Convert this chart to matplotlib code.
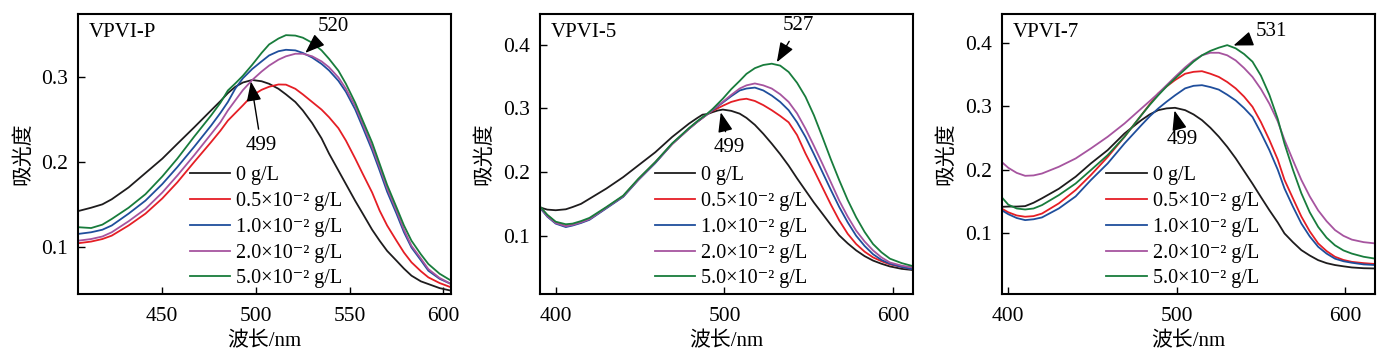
import matplotlib
matplotlib.use("Agg")
import matplotlib.pyplot as plt

plt.rcParams['font.family'] = ['Liberation Serif', 'DejaVu Serif', 'Noto Sans CJK SC']

# ---- datos ----
etiquetas = ['0 g/L', '0.5×10⁻² g/L', '1.0×10⁻² g/L', '2.0×10⁻² g/L', '5.0×10⁻² g/L']
colores = ['#1e1c1d', '#e51e25', '#1f4e9c', '#a6549f', '#187c3c']

# VPVI-P
wl_p = [405, 412, 418, 423, 432, 441, 450, 458, 467, 476, 481, 485, 489, 493, 498,
        503, 507, 512, 516, 521, 525, 530, 535, 539, 544, 548, 553, 557, 562, 566,
        570, 575, 579, 583, 588, 592, 598, 604]
p_0 = [.142, .146, .150, .156, .170, .187, .204, .2215, .241, .261, .272, .2815, .289,
       .294, .297, .2955, .2925, .2866, .280, .271, .261, .246, .228, .210, .190, .174,
       .154, .139, .120, .107, .095, .0834, .074, .0657, .059, .0558, .051, .048]
p_05 = [.104, .106, .109, .113, .125, .139, .157, .176, .200, .2235, .237, .249, .258,
        .267, .2787, .2854, .289, .2917, .2915, .2866, .280, .271, .262, .253, .240,
        .2254, .204, .186, .164, .1426, .125, .107, .093, .0815, .071, .0637, .057, .052]
p_10 = [.115, .117, .120, .125, .139, .1544, .174, .194, .218, .243, .258, .271, .287,
        .299, .310, .319, .326, .331, .3327, .332, .329, .3235, .316, .3083, .296, .283,
        .262, .241, .214, .190, .165, .139, .117, .099, .084, .0716, .062, .056]
p_20 = [.107, .109, .112, .117, .130, .1446, .164, .184, .208, .233, .247, .261, .273,
        .285, .297, .307, .314, .321, .325, .328, .328, .325, .319, .312, .300, .2866,
        .266, .245, .218, .194, .169, .1426, .120, .101, .086, .0735, .063, .056]
p_50 = [.123, .122, .126, .1327, .146, .162, .183, .204, .230, .255, .270, .2846, .293,
        .302, .315, .329, .339, .346, .350, .3495, .347, .341, .332, .322, .308, .2925,
        .270, .249, .223, .198, .173, .1465, .125, .107, .091, .0795, .068, .060]

# VPVI-5
wl_5 = [390, 395, 400, 406, 410, 415, 420, 430, 440, 449, 459, 469, 479, 484, 487, 490,
        493, 496, 499, 504, 509, 513, 518, 523, 528, 533, 538, 543, 548, 553, 558, 563,
        568, 573, 578, 583, 588, 593, 598, 605, 612]
c5_0 = [.145, .141, .140, .1415, .145, .150, .158, .174, .192, .2105, .231, .255, .276,
        .285, .290, .291, .294, .2965, .298, .296, .2916, .285, .274, .260, .2445, .228,
        .210, .190, .171, .152, .1346, .117, .1005, .088, .077, .068, .061, .056, .0518,
        .048, .046]
c5_05 = [.147, .132, .121, .115, .117, .121, .126, .144, .162, .1885, .215, .244, .268,
         .279, .285, .291, .296, .300, .304, .310, .3136, .315, .3115, .305, .297, .288,
         .278, .258, .229, .203, .176, .149, .124, .103, .087, .075, .066, .060, .055,
         .051, .047]
c5_10 = [.146, .130, .119, .1136, .116, .120, .125, .143, .161, .1875, .214, .244, .268,
         .279, .285, .291, .297, .303, .309, .319, .328, .331, .3325, .328, .320, .310,
         .297, .278, .255, .228, .200, .172, .145, .121, .100, .084, .071, .062, .056,
         .051, .047]
c5_20 = [.147, .131, .120, .115, .117, .121, .126, .144, .162, .188, .215, .244, .268,
         .279, .285, .291, .298, .304, .310, .321, .331, .336, .339, .336, .331, .322,
         .310, .292, .268, .241, .213, .184, .155, .130, .108, .091, .077, .066, .058,
         .053, .050]
c5_50 = [.148, .133, .122, .118, .119, .123, .128, .145, .163, .1895, .2157, .245, .269,
         .280, .286, .292, .299, .307, .315, .330, .343, .354, .363, .368, .370, .367,
         .357, .340, .318, .289, .255, .220, .187, .156, .129, .106, .087, .074, .064,
         .057, .052]

# VPVI-7
wl_7 = [396, 400, 405, 410, 415, 420, 430, 440, 449, 459, 469, 479, 484, 489, 494, 499,
        505, 510, 515, 520, 525, 530, 535, 540, 545, 550, 555, 560, 564, 569, 574, 579,
        584, 589, 594, 599, 604, 611, 618]
c7_0 = [.1416, .142, .142, .1427, .148, .155, .170, .189, .2098, .2308, .257, .278, .287,
        .2937, .2965, .2974, .2937, .287, .278, .266, .252, .236, .218, .198, .178, .157,
        .1364, .117, .0997, .086, .0735, .065, .0577, .053, .050, .048, .0462, .045, .0446]
c7_05 = [.139, .133, .128, .126, .127, .131, .147, .168, .1915, .220, .2518, .2858, .303,
         .320, .331, .341, .351, .354, .355, .351, .346, .338, .328, .315, .299, .275,
         .247, .216, .184, .155, .1264, .103, .084, .072, .063, .058, .055, .053, .0516]
c7_10 = [.1364, .130, .124, .1207, .122, .1249, .139, .158, .1836, .2098, .2413, .270,
         .284, .2963, .307, .317, .328, .332, .333, .330, .326, .318, .309, .297, .283,
         .258, .231, .200, .1705, .142, .1154, .095, .0787, .068, .060, .056, .0536, .051,
         .050]
c7_20 = [.2124, .203, .195, .1904, .191, .194, .2046, .2177, .2334, .2518, .2727, .2963,
         .308, .320, .333, .346, .361, .372, .380, .384, .384, .380, .372, .360, .346,
         .327, .304, .276, .247, .215, .184, .158, .136, .119, .105, .096, .090, .086, .084]
c7_50 = [.157, .145, .139, .1374, .139, .1443, .160, .1783, .1993, .223, .2518, .2858,
         .302, .317, .331, .3435, .358, .370, .380, .387, .392, .396, .391, .382, .370,
         .348, .318, .280, .241, .200, .163, .133, .110, .093, .081, .073, .068, .063, .060]

paneles = [
    ('VPVI-P', wl_p, [p_0, p_05, p_10, p_20, p_50], (405, 604.3), (0.044, 0.375),
     [450, 500, 550, 600], [0.1, 0.2, 0.3], 0.30,
     ('520', (541.5, 0.360), (526.3, 0.329)), ('499', (502.8, 0.2195), (497.3, 0.2953))),
    ('VPVI-5', wl_5, [c5_0, c5_05, c5_10, c5_20, c5_50], (390.5, 611.7), (0.0085, 0.448),
     [400, 500, 600], [0.1, 0.2, 0.3, 0.4], 0.309,
     ('527', (543.9, 0.430), (531.0, 0.3723)), ('499', (503.0, 0.2377), (497.8, 0.2937))),
    ('VPVI-7', wl_7, [c7_0, c7_05, c7_10, c7_20, c7_50], (396.1, 617.8), (0.0044, 0.445),
     [400, 500, 600], [0.1, 0.2, 0.3, 0.4], 0.2805,
     ('531', (556.0, 0.418), (533.7, 0.3954)), ('499', (503.3, 0.2476), (498.7, 0.2932))),
]

izq = [0.0562, 0.3888, 0.7217]

fig = plt.figure(figsize=(13.88, 3.59), dpi=100)

for i, (nombre, wl, curvas, xl, yl, xt, yt, legx, a1, a2) in enumerate(paneles):
    ax = fig.add_axes([izq[i], 0.181, 0.2690, 0.780])
    for y, c, lab in zip(curvas, colores, etiquetas):
        ax.plot(wl, y, color=c, lw=1.3, label=lab)
    ax.set_xlim(xl)
    ax.set_ylim(yl)
    ax.set_xticks(xt)
    ax.set_yticks(yt)
    ax.set_yticklabels(['%.1f' % v for v in yt])
    ax.tick_params(direction='in', length=5, width=1, labelsize=15.5, pad=7)
    ax.tick_params(axis='x', pad=9)
    for s in ax.spines.values():
        s.set_linewidth(1.5)
    ax.set_xlabel('波长/nm', fontsize=15, labelpad=5)
    ax.set_ylabel('吸光度', fontsize=15, labelpad=6)
    ax.text(0.03, 0.935, nombre, transform=ax.transAxes, fontsize=15, va='center')
    for txt, xy_t, xy_h in (a1, a2):
        ax.annotate(txt, xy=xy_h, xytext=xy_t, fontsize=15, ha='center', va='center',
                    arrowprops=dict(arrowstyle='-|>,head_length=0.8,head_width=0.3',
                                    color='k', lw=1.0, shrinkA=3, shrinkB=0))
    ax.legend(loc='lower left', bbox_to_anchor=(legx, 0.02), frameon=False,
              fontsize=14.5, handlelength=2.0, handletextpad=0.3, labelspacing=0.33,
              borderpad=0, borderaxespad=0)

plt.savefig('out.png', dpi=100)
